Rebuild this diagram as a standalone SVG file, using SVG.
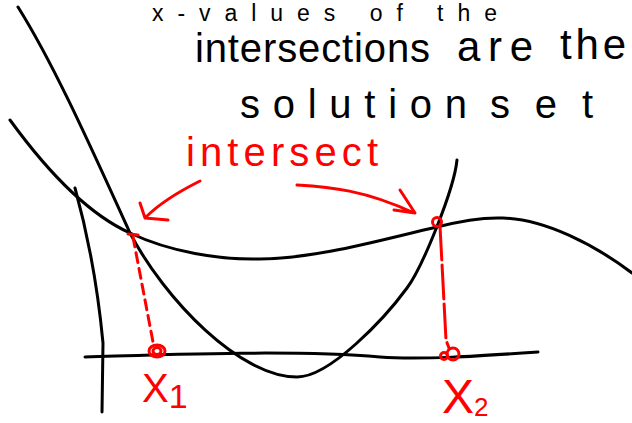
<svg xmlns="http://www.w3.org/2000/svg" width="632" height="423" viewBox="0 0 632 423">
<style>
.ink{fill:none;stroke:#000;stroke-width:3;stroke-linecap:round;stroke-linejoin:round}
.red{fill:none;stroke:#ff0000;stroke-width:3;stroke-linecap:round;stroke-linejoin:round}
.bt{font-family:"Liberation Sans","DejaVu Sans",sans-serif;fill:#000}
.rt{font-family:"Liberation Sans","DejaVu Sans",sans-serif;fill:#ff0000}
</style>
<rect width="632" height="423" fill="#fff"/>
<g id="notes">
<text class="bt" x="152" y="21" style="font-size:23px" textLength="345" lengthAdjust="spacing">x-values of the</text>
<text class="bt" x="195" y="62" style="font-size:40px" textLength="235" lengthAdjust="spacing">intersections</text>
<text class="bt" x="457" y="61" style="font-size:42px" textLength="76" lengthAdjust="spacing">are</text>
<text class="bt" x="560" y="59" style="font-size:42px" textLength="66" lengthAdjust="spacing">the</text>
<text class="bt" x="240" y="118" style="font-size:40px" textLength="227" lengthAdjust="spacing">solution</text>
<text class="bt" x="490" y="118" style="font-size:40px" textLength="103" lengthAdjust="spacing">set</text>
</g>
<g id="axes">
<path class="ink" d="M75,188 C88,235 98,290 103,343 L102,412"/>
<path class="ink" d="M85,357 C180,354 300,350 380,357 C420,360 480,356 538,352"/>
</g>
<g id="parabola">
<path class="ink" d="M18,7 C55,66 93,152 130,233 C165,300 240,377 297,377 C330,377 385,318 407,288 C422,268 454,190 457,160"/>
</g>
<g id="cubic">
<path class="ink" d="M10,120 C50,175 90,215 130,233 C170,252 220,260 260,259 C320,258 380,240 437,227 C460,221 480,217 503,218 C545,219 595,245 632,273"/>
</g>
<g id="intersect-label">
<text class="rt" x="186" y="166" style="font-size:40px" textLength="192" lengthAdjust="spacing">intersect</text>
</g>
<g id="connectors">
<path class="red" d="M200,181 C178,192 160,203 146,217 M140,203 L145,218 L168,220"/>
<path class="red" d="M297,185 C330,187 365,190 414,213 M400,190 L415,213 L394,210"/>
<path class="red" d="M133,237 L153,342" stroke-dasharray="10 6"/>
<path class="red" d="M440,226 L446,340 L449,348" stroke-dasharray="34 5"/>
</g>
<g id="x1">
<path class="red" d="M128,234 L138,235" stroke-width="4"/>
<ellipse class="red" cx="157" cy="351" rx="8" ry="6"/>
<ellipse class="red" cx="157" cy="351" rx="4" ry="3.5"/>
<text class="rt" x="142" y="402" style="font-size:40px">X<tspan style="font-size:34px" dy="6">1</tspan></text>
</g>
<g id="x2">
<circle class="red" cx="437" cy="222" r="4.5"/>
<circle class="red" cx="453" cy="354" r="6"/>
<circle class="red" cx="444" cy="356" r="3.5"/>
<text class="rt" x="442" y="413" style="font-size:48px">X<tspan style="font-size:26px" dy="3">2</tspan></text>
</g>
</svg>
